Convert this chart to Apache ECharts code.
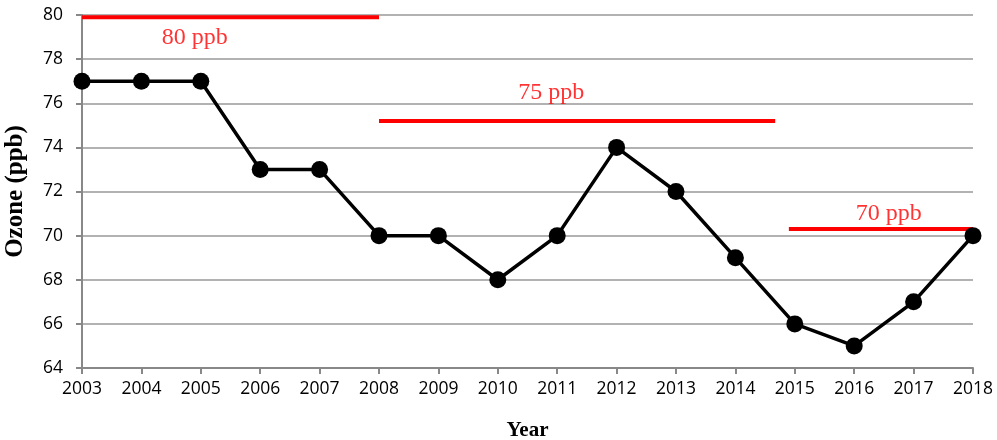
<!DOCTYPE html>
<html>
<head>
<meta charset="utf-8">
<script src="https://cdn.jsdelivr.net/npm/echarts@6/dist/echarts.min.js"></script>
<style>
  html, body { margin: 0; padding: 0; background: #fff; }
  #chart { width: 997px; height: 440px; }
</style>
</head>
<body>
<div id="chart"></div>
<script>
// 年份与臭氧浓度
const years = [2003, 2004, 2005, 2006, 2007, 2008, 2009, 2010, 2011, 2012, 2013, 2014, 2015, 2016, 2017, 2018];
const ozone = [77, 77, 77, 73, 73, 70, 70, 68, 70, 74, 72, 69, 66, 65, 67, 70];
// 标准限值线: [起点年, 终点年, 值]
const standards = [
  [2003, 2008, 79.9],
  [2008, 2014.67, 75.2],
  [2014.9, 2018, 70.3]
];
const standardLabels = ['80 ppb', '75 ppb', '70 ppb'];
const labelPos = [[2004.9, 78.95], [2010.9, 76.5], [2016.58, 71.0]];

const chart = echarts.init(document.getElementById('chart'));

const series = [];
standards.forEach((s) => {
  series.push({
    type: 'line',
    data: [[s[0], s[2]], [s[1], s[2]]],
    symbol: 'none',
    lineStyle: { color: '#ff0000', width: 4 },
    z: 1,
    silent: true
  });
});
// 限值文字
series.push({
  type: 'scatter',
  data: labelPos.map((p, i) => ({ value: p, name: standardLabels[i] })),
  symbolSize: 0,
  label: {
    show: true,
    position: 'inside',
    formatter: '{b}',
    color: '#ff0000',
    fontFamily: 'Liberation Serif',
    fontSize: 24
  },
  silent: true
});
series.push({
  type: 'line',
  data: years.map((y, i) => [y, ozone[i]]),
  symbol: 'circle',
  symbolSize: 17,
  itemStyle: { color: '#000' },
  lineStyle: { color: '#000', width: 3.5 },
  z: 3
});

const option = {
  animation: false,
  grid: { left: 82, right: 24, top: 15, bottom: 72, outerBoundsMode: 'none' },
  xAxis: {
    type: 'value',
    min: 2003,
    max: 2018,
    interval: 1,
    name: 'Year',
    nameLocation: 'middle',
    nameGap: 52,
    nameTextStyle: { fontFamily: 'Liberation Serif', fontWeight: 'bold', fontSize: 21, color: '#000' },
    axisLine: { lineStyle: { color: '#888', width: 2 } },
    axisTick: { show: true, length: 6, lineStyle: { color: '#888', width: 2 } },
    axisLabel: { color: '#000', fontFamily: 'Open Sans', fontSize: 17.5, margin: 12, formatter: v => String(v) },
    splitLine: { show: false }
  },
  yAxis: {
    type: 'value',
    min: 64,
    max: 80,
    interval: 2,
    name: 'Ozone (ppb)',
    nameLocation: 'middle',
    nameGap: 54,
    nameTextStyle: { fontFamily: 'Liberation Serif', fontWeight: 'bold', fontSize: 25, color: '#000' },
    axisLine: { show: true, lineStyle: { color: '#888', width: 2 } },
    axisTick: { show: true, length: 6, lineStyle: { color: '#888', width: 2 } },
    axisLabel: { color: '#000', fontFamily: 'Open Sans', fontSize: 17.5, margin: 19 },
    splitLine: { lineStyle: { color: '#999', width: 1.5 } }
  },
  series: series
};
chart.setOption(option);
</script>
</body>
</html>
